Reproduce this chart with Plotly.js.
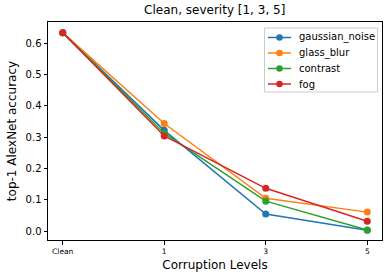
<!DOCTYPE html>
<html><head><meta charset="utf-8">
<script src="https://cdn.plot.ly/plotly-3.0.1.min.js"></script>
<style>html,body{margin:0;padding:0;background:#fff}#c{width:389px;height:280px}</style>
</head><body><div id="c"></div>
<script>
const levels = ["Clean", "1", "3", "5"];
const gaussian_noise = [0.634, 0.322, 0.055, 0.003];
const glass_blur = [0.634, 0.344, 0.105, 0.061];
const contrast = [0.634, 0.313, 0.096, 0.004];
const fog = [0.634, 0.304, 0.137, 0.032];
const names = ["gaussian_noise", "glass_blur", "contrast", "fog"];
const colors = ["#1f77b4", "#ff7f0e", "#2ca02c", "#d62728"];
const series = [gaussian_noise, glass_blur, contrast, fog];
const xi = levels.map((_, i) => i);
const traces = series.map((s, k) => ({
  x: xi, y: s, name: names[k], type: "scatter", mode: "lines+markers",
  line: {color: colors[k], width: 1.5}, marker: {color: colors[k], size: 7},
  showlegend: false
}));
const font = "DejaVu Sans, sans-serif";
// plot area in pixels
const L = 48, R = 382, T = 22, B = 240;
const px = v => (v - L) / (R - L);
const py = v => (B - v) / (B - T);
const shapes = [{type: "rect", xref: "paper", yref: "paper", x0: px(264.5), x1: px(377.5), y0: py(92), y1: py(28),
  line: {color: "#cccccc", width: 1}, fillcolor: "rgba(255,255,255,0.8)", layer: "above"}];
const annotations = [];
names.forEach((n, k) => {
  const yc = 37.5 + k * 15.5;
  shapes.push({type: "line", xref: "paper", yref: "paper", x0: px(268), x1: px(291), y0: py(yc), y1: py(yc),
    line: {color: colors[k], width: 1.5}, layer: "above"});
  shapes.push({type: "circle", xref: "paper", yref: "paper", x0: px(279.5 - 3.3), x1: px(279.5 + 3.3), y0: py(yc + 3.3), y1: py(yc - 3.3),
    line: {color: colors[k], width: 0}, fillcolor: colors[k], layer: "above"});
  annotations.push({text: n, xref: "paper", yref: "paper", x: px(297), y: py(yc), xanchor: "left", yanchor: "middle",
    showarrow: false, font: {size: 10, family: font, color: "#000"}});
});
const layout = {
  width: 389, height: 280,
  margin: {l: L, r: 389 - R, t: T, b: 280 - B},
  paper_bgcolor: "#fff", plot_bgcolor: "#fff",
  font: {family: font, color: "#000", size: 10},
  title: {text: "Clean, severity [1, 3, 5]", font: {size: 12, family: font}, x: 0.552, xanchor: "center", y: 0.965, yanchor: "middle"},
  xaxis: {
    range: [-0.145, 3.145], tickvals: xi, ticktext: levels, tickfont: {size: 7.5},
    showgrid: false, zeroline: false, showline: true, mirror: true, linecolor: "#000", linewidth: 1,
    ticks: "outside", ticklen: 3.5, tickcolor: "#000",
    title: {text: "Corruption Levels", font: {size: 12}, standoff: 6}
  },
  yaxis: {
    range: [-0.028, 0.668], tickvals: [0, 0.1, 0.2, 0.3, 0.4, 0.5, 0.6], tickformat: ".1f",
    showgrid: false, zeroline: false, showline: true, mirror: true, linecolor: "#000", linewidth: 1,
    ticks: "outside", ticklen: 3.5, tickcolor: "#000",
    title: {text: "top-1 AlexNet accuracy", font: {size: 12}, standoff: 6}
  },
  shapes: shapes, annotations: annotations,
  showlegend: false
};
Plotly.newPlot("c", traces, layout, {displayModeBar: false, staticPlot: true});
</script></body></html>
